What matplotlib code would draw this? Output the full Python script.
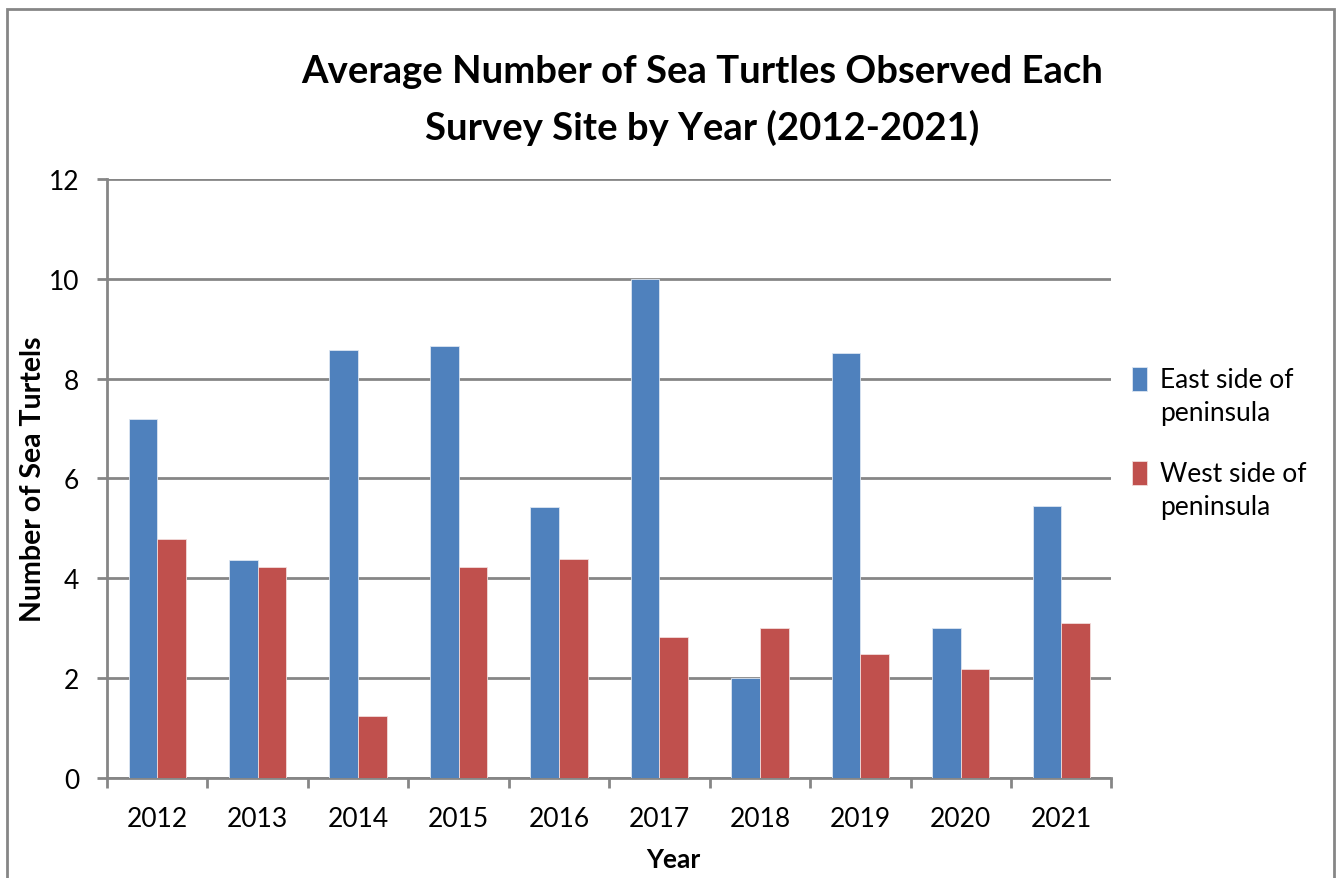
import numpy as np
import matplotlib
matplotlib.use("Agg")
import matplotlib.pyplot as plt
from matplotlib.patches import Rectangle
from matplotlib.legend_handler import HandlerPatch

plt.rcParams['font.family'] = ['Lato', 'DejaVu Sans']

years = ['2012', '2013', '2014', '2015', '2016', '2017', '2018', '2019', '2020', '2021']
east_side = [7.19, 4.36, 8.57, 8.66, 5.43, 10.0, 2.0, 8.51, 3.0, 5.44]
west_side = [4.79, 4.22, 1.25, 4.22, 4.39, 2.83, 3.0, 2.48, 2.19, 3.11]
series_names = ['East side of\npeninsula', 'West side of\npeninsula']

blue = '#4F81BD'
red = '#C0504D'
grey = '#868686'


def small_square(legend, orig_handle, xdescent, ydescent, width, height, fontsize):
    # square key, sized to the key width and centred in the (taller) key box
    side = width
    return Rectangle((-xdescent, -ydescent + (height - side) / 2), side, side)


fig = plt.figure(figsize=(13.42, 8.79), dpi=100)
ax = fig.add_axes([0.0797, 0.1138, 0.7485, 0.6814])

x = np.arange(len(years))
w = 0.285
ax.bar(x - w / 2, east_side, w, color=blue, edgecolor='#DCE6F2', linewidth=0.6,
       label=series_names[0], zorder=3)
ax.bar(x + w / 2, west_side, w, color=red, edgecolor='#F2DCDB', linewidth=0.6,
       label=series_names[1], zorder=3)

ax.set_xlim(-0.5, len(years) - 0.5)
ax.set_ylim(0, 12)
ax.set_yticks(range(0, 13, 2))
ax.yaxis.grid(True, color=grey, linewidth=2, zorder=1)
ax.set_axisbelow(True)

ax.set_xticks(x)
ax.set_xticklabels(years)
ax.set_xticks(np.arange(-0.5, len(years)), minor=True)
ax.tick_params(axis='x', which='major', length=0, pad=20, labelsize=19, colors='black')
ax.tick_params(axis='x', which='minor', length=7, width=2, color=grey)
ax.tick_params(axis='y', length=7, width=2, color=grey, pad=13, labelsize=19)

for side in ['top', 'right']:
    ax.spines[side].set_visible(False)
for side in ['left', 'bottom']:
    ax.spines[side].set_color(grey)
    ax.spines[side].set_linewidth(2)

ax.set_ylabel('Number of Sea Turtels', fontsize=20.5, fontweight='bold')
ax.yaxis.set_label_coords(-0.061, 0.5)
ax.set_xlabel('Year', fontsize=19, fontweight='bold')
ax.xaxis.set_label_coords(0.564, -0.116)

fig.text(0.523, 0.886, 'Average Number of Sea Turtles Observed Each\nSurvey Site by Year (2012-2021)',
         ha='center', va='center', fontsize=27.5, fontweight='bold', linespacing=1.7)

leg = ax.legend(loc='upper left', bbox_to_anchor=(0.997, 0.725), frameon=False,
                fontsize=19, handlelength=0.55, handleheight=1.0, handletextpad=0.5,
                labelspacing=1.35,
                handler_map={Rectangle: HandlerPatch(patch_func=small_square)})
for t in leg.get_texts():
    t.set_linespacing(1.4)
# keys sit beside the first line of each two-line label
for row in leg._legend_handle_box.get_children()[0].get_children():
    row.align = 'top'

# outer chart frame
fig.patches.append(Rectangle((7 / 1342, -0.05), 1327 / 1342, 1 - 10 / 879 + 0.05,
                             transform=fig.transFigure, fill=False,
                             edgecolor=grey, linewidth=2))

fig.savefig('out.png', dpi=100)
